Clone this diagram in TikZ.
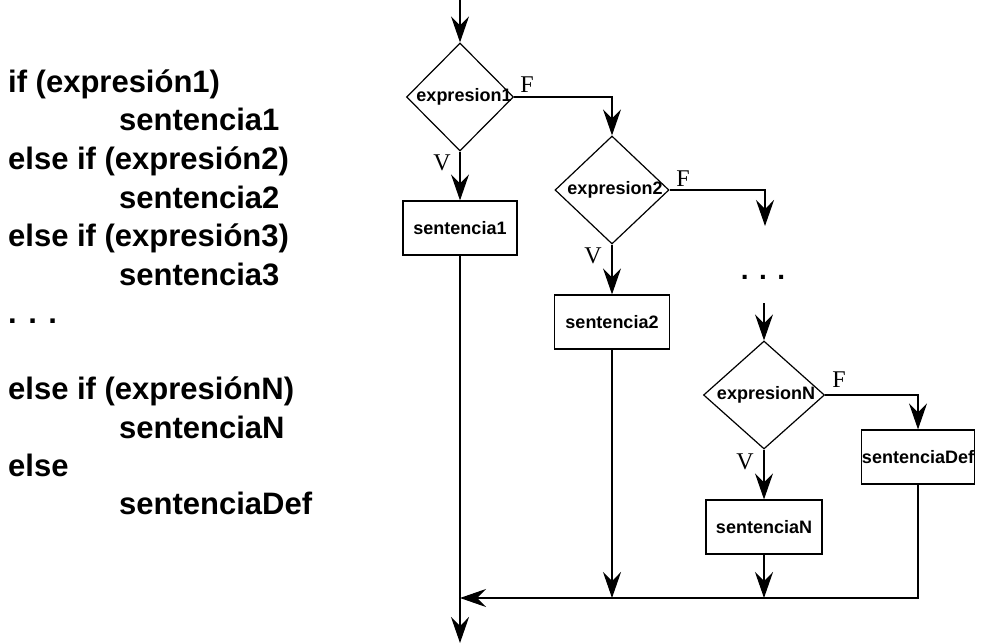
\documentclass[tikz,border=0pt]{standalone}
\usepackage{fontspec}
\setmainfont{Liberation Serif}
\newfontfamily\arialf{Liberation Sans}
\usetikzlibrary{shapes.geometric,arrows.meta}
\tikzset{
  codeline/.style={anchor=base west,inner sep=0pt,font=\arialf\bfseries\fontsize{31}{38}\selectfont},
  cond/.style={draw,line width=1.2pt,shape=diamond,inner sep=0pt,font=\arialf\bfseries\fontsize{18}{20}\selectfont},
  stmt/.style={draw,line width=1.2pt,rectangle,inner sep=0pt,minimum height=54pt,font=\arialf\bfseries\fontsize{18}{20}\selectfont},
  flow/.style={line width=1.1pt,-{Stealth[length=26pt,width=18pt,inset=9pt]}},
  tf/.style={inner sep=0pt,font=\fontsize{24}{26}\selectfont},
  dotsf/.style={inner sep=0pt,font=\arialf\bfseries\fontsize{28}{30}\selectfont}
}
\begin{document}
\begin{tikzpicture}[x=1pt,y=-1pt]
\useasboundingbox (0,0) rectangle (981,644);
% code listing
\node[codeline] (l1) at (8,93) {if (expresión1)};
\node[codeline] (l2) at (119,131) {sentencia1};
\node[codeline] (l3) at (8,170) {else if (expresión2)};
\node[codeline] (l4) at (119,208) {sentencia2};
\node[codeline] (l5) at (8,246) {else if (expresión3)};
\node[codeline] (l6) at (119,285) {sentencia3};
\node[codeline] (l7) at (8,323) {. . .};
\node[codeline] (l9) at (8,399) {else if (expresiónN)};
\node[codeline] (l10) at (119,438) {sentenciaN};
\node[codeline] (l11) at (8,476) {else};
\node[codeline] (l12) at (119,514) {sentenciaDef};
% flowchart nodes
\coordinate (start) at (460,0);
\node[cond,minimum width=107pt,minimum height=108pt] (d1) at (460,97) {\makebox[0pt]{\hspace{8pt}expresion1}};
\node[stmt,minimum width=114pt] (s1) at (460,228) {\makebox[0pt]{sentencia1}};
\node[cond,minimum width=114pt,minimum height=108pt] (d2) at (612,190) {\makebox[0pt]{\hspace{6pt}expresion2}};
\node[stmt,minimum width=115pt] (s2) at (612,322) {\makebox[0pt]{sentencia2}};
\coordinate (c2) at (765,226);
\node[dotsf] (dots) at (763,277) {. . .};
\coordinate (c3) at (764,303);
\node[cond,minimum width=121pt,minimum height=108pt] (dN) at (764,395) {\makebox[0pt]{\hspace{4pt}expresionN}};
\node[stmt,minimum width=116pt] (sN) at (764,527) {\makebox[0pt]{sentenciaN}};
\node[stmt,minimum width=113pt] (sD) at (918,457) {\makebox[0pt]{sentenciaDef}};
\coordinate (mN) at (764,598);
\coordinate (m2) at (612,598);
\coordinate (m1) at (460,598);
\coordinate (stop) at (460,643);
% labels
\node[tf] (v1) at (442,163) {V};
\node[tf] (f1) at (527,85) {F};
\node[tf] (v2) at (593,256) {V};
\node[tf] (f2) at (683,179) {F};
\node[tf] (vN) at (745,462) {V};
\node[tf] (fN) at (839,380) {F};
% connectors
\draw[flow] (start) -- (d1.north);
\draw[flow] (d1.south) -- (s1.north);
\draw[flow] (d1.east) -| (d2.north);
\draw[flow] (d2.south) -- (s2.north);
\draw[flow] (d2.east) -| (c2);
\draw[flow] (c3) -- (dN.north);
\draw[flow] (dN.south) -- (sN.north);
\draw[flow] (dN.east) -| (sD.north);
\draw[flow] (sN.south) -- (mN);
\draw[flow] (s2.south) -- (m2);
\draw[flow] (sD.south) |- (m1);
\draw[flow] (s1.south) -- (stop);
\end{tikzpicture}
\end{document}
